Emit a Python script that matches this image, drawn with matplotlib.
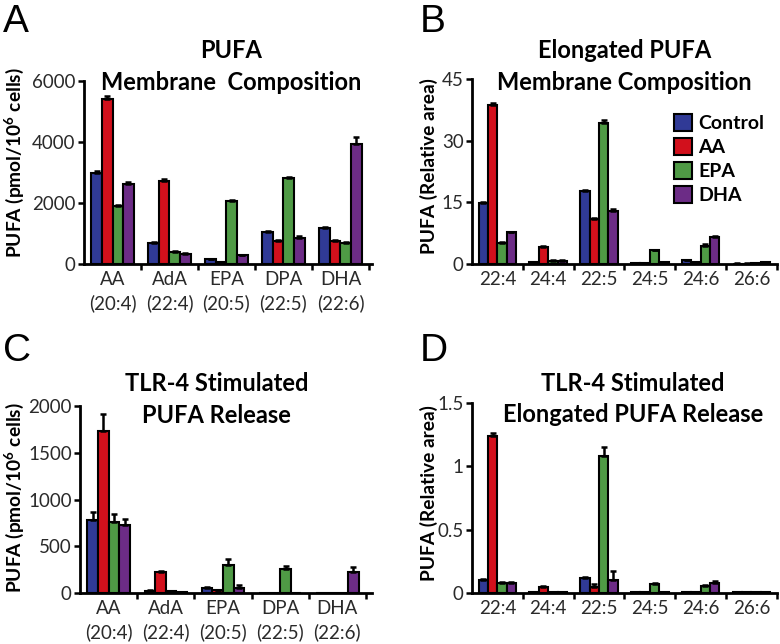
import numpy as np
import matplotlib
matplotlib.use("Agg")
import matplotlib.pyplot as plt
from matplotlib.patches import Patch

plt.rcParams['font.family'] = ['Lato', 'DejaVu Sans']
plt.rcParams['mathtext.fontset'] = 'custom'
plt.rcParams['mathtext.rm'] = 'Lato'
plt.rcParams['mathtext.bf'] = 'Lato:bold'

groups = ["Control", "AA", "EPA", "DHA"]
colors = ["#303a96", "#d2101c", "#4f9a45", "#6c2c86"]

# Panel A - membrane composition (pmol/10^6 cells)
a_labels = ["AA\n(20:4)", "AdA\n(22:4)", "EPA\n(20:5)", "DPA\n(22:5)", "DHA\n(22:6)"]
a_control = [2980, 700, 160, 1050, 1190]
a_aa = [5420, 2730, 70, 770, 770]
a_epa = [1900, 400, 2060, 2830, 700]
a_dha = [2640, 340, 290, 860, 3940]
a_err_control = [60, 30, 20, 30, 40]
a_err_aa = [80, 50, 10, 20, 20]
a_err_epa = [30, 20, 30, 40, 20]
a_err_dha = [40, 20, 20, 60, 220]

# Panel B - elongated PUFA membrane composition (relative area)
b_labels = ["22:4", "24:4", "22:5", "24:5", "24:6", "26:6"]
b_control = [14.8, 0.4, 17.7, 0.2, 1.0, 0.1]
b_aa = [38.8, 4.1, 11.0, 0.2, 0.5, 0.1]
b_epa = [5.2, 0.8, 34.3, 3.3, 4.5, 0.3]
b_dha = [7.7, 0.8, 13.0, 0.5, 6.6, 0.5]
b_err_control = [0.3, 0.1, 0.4, 0.05, 0.1, 0.05]
b_err_aa = [0.3, 0.2, 0.3, 0.05, 0.05, 0.05]
b_err_epa = [0.2, 0.1, 0.8, 0.2, 0.3, 0.05]
b_err_dha = [0.2, 0.1, 0.3, 0.05, 0.3, 0.1]

# Panel C - TLR-4 stimulated PUFA release (pmol/10^6 cells)
c_labels = a_labels
c_control = [780, 25, 55, 0, 0]
c_aa = [1730, 230, 30, 0, 0]
c_epa = [760, 18, 300, 255, 0]
c_dha = [725, 12, 55, 0, 230]
c_err_control = [90, 5, 10, 0, 0]
c_err_aa = [190, 10, 5, 0, 0]
c_err_epa = [90, 5, 65, 35, 0]
c_err_dha = [70, 3, 30, 0, 45]

# Panel D - TLR-4 stimulated elongated PUFA release (relative area)
d_labels = b_labels
d_control = [0.10, 0.01, 0.12, 0.005, 0.01, 0.005]
d_aa = [1.24, 0.05, 0.05, 0.005, 0.01, 0.005]
d_epa = [0.08, 0.01, 1.08, 0.07, 0.055, 0.005]
d_dha = [0.08, 0.01, 0.10, 0.01, 0.075, 0.01]
d_err_control = [0.01, 0.0, 0.005, 0.0, 0.0, 0.0]
d_err_aa = [0.02, 0.005, 0.02, 0.0, 0.0, 0.0]
d_err_epa = [0.005, 0.0, 0.07, 0.005, 0.01, 0.0]
d_err_dha = [0.005, 0.0, 0.07, 0.0, 0.02, 0.0]

TXT = "#2a2a2a"
BW = 0.185
TICK_FS = 13.5
TITLE_FS = 17
YLAB_FS = 13.8


def bar_panel(ax, labels, series, errs, ymax, yticks, yticklabels, xpad):
    n = len(labels)
    x = np.arange(n) + 0.5
    for i, (vals, err) in enumerate(zip(series, errs)):
        pos = x + (i - 1.5) * BW
        ax.bar(pos, vals, BW, color=colors[i], edgecolor="black",
               linewidth=1.5, zorder=2)
        ax.errorbar(pos, vals, yerr=[np.zeros(n), err], fmt="none",
                    ecolor="black", elinewidth=1.8, capsize=2, capthick=1.8,
                    zorder=3)
    ax.set_xlim(0, n + xpad)
    ax.set_ylim(0, ymax)
    ax.set_xticks(x)
    ax.set_xticklabels(labels, fontsize=TICK_FS, color=TXT, linespacing=1.45)
    ax.set_xticks(np.arange(1, n + 1), minor=True)
    ax.tick_params(axis="x", which="major", length=0, pad=5)
    ax.tick_params(axis="x", which="minor", length=4, width=1.8,
                   direction="out")
    ax.set_yticks(yticks)
    ax.set_yticklabels(yticklabels, fontsize=TICK_FS, color=TXT)
    ax.tick_params(axis="y", length=4, width=1.8, direction="out", pad=2)
    for s in ["top", "right"]:
        ax.spines[s].set_visible(False)
    for s in ["left", "bottom"]:
        ax.spines[s].set_linewidth(2.0)


def titles(ax, line1, line2, xc, y1, y2):
    ax.text(xc, y1, line1, transform=ax.transAxes, ha="center", va="center",
            fontsize=TITLE_FS, fontweight="bold")
    ax.text(xc, y2, line2, transform=ax.transAxes, ha="center", va="center",
            fontsize=TITLE_FS, fontweight="bold")


def ylab(ax, text, xc, yc):
    ax.set_ylabel(text, fontsize=YLAB_FS, fontweight="bold", va="center")
    ax.yaxis.set_label_coords(xc, yc)


fig = plt.figure(figsize=(7.8, 6.44), dpi=100)

axA = fig.add_axes([0.1077, 0.590, 0.369, 0.284])
bar_panel(axA, a_labels, [a_control, a_aa, a_epa, a_dha],
          [a_err_control, a_err_aa, a_err_epa, a_err_dha],
          6000, [0, 2000, 4000, 6000], ["0", "2000", "4000", "6000"], 0.05)
titles(axA, "PUFA", "Membrane  Composition", 0.51, 1.169, 0.995)
ylab(axA, r"PUFA (pmol/10$^\mathbf{6}$ cells)", -0.243, 0.557)

axB = fig.add_axes([0.605, 0.590, 0.391, 0.287])
bar_panel(axB, b_labels, [b_control, b_aa, b_epa, b_dha],
          [b_err_control, b_err_aa, b_err_epa, b_err_dha],
          45, [0, 15, 30, 45], ["0", "15", "30", "45"], 0.0)
titles(axB, "Elongated PUFA", "Membrane Composition", 0.5, 1.157, 0.984)
ylab(axB, "PUFA (Relative area)", -0.141, 0.53)
handles = [Patch(facecolor=c, edgecolor="black", linewidth=1.5, label=g)
           for c, g in zip(colors, groups)]
axB.legend(handles=handles, loc="upper left", bbox_to_anchor=(0.662, 0.81),
           frameon=False, prop={"size": 14, "weight": "bold"},
           handlelength=0.95, handleheight=0.95, handletextpad=0.3,
           labelspacing=0.3, borderaxespad=0, borderpad=0)

axC = fig.add_axes([0.1026, 0.0792, 0.374, 0.290])
bar_panel(axC, c_labels, [c_control, c_aa, c_epa, c_dha],
          [c_err_control, c_err_aa, c_err_epa, c_err_dha],
          2000, [0, 500, 1000, 1500, 2000],
          ["0", "500", "1000", "1500", "2000"], 0.1)
titles(axC, "TLR-4 Stimulated", "PUFA Release", 0.469, 1.123, 0.952)
ylab(axC, r"PUFA (pmol/10$^\mathbf{6}$ cells)", -0.226, 0.513)

axD = fig.add_axes([0.605, 0.0792, 0.391, 0.295])
bar_panel(axD, d_labels, [d_control, d_aa, d_epa, d_dha],
          [d_err_control, d_err_aa, d_err_epa, d_err_dha],
          1.5, [0, 0.5, 1, 1.5], ["0", "0.5", "1", "1.5"], 0.0)
titles(axD, "TLR-4 Stimulated", "Elongated PUFA Release", 0.528, 1.105, 0.942)
ylab(axD, "PUFA (Relative area)", -0.141, 0.526)

for letter, xp, yp in [("A", 3, 4), ("B", 420, 4), ("C", 3, 333), ("D", 420, 333)]:
    fig.text(xp / 780, 1 - yp / 644, letter, fontsize=28, ha="left", va="top",
             family="Liberation Sans")

fig.savefig("out.png", dpi=100)
